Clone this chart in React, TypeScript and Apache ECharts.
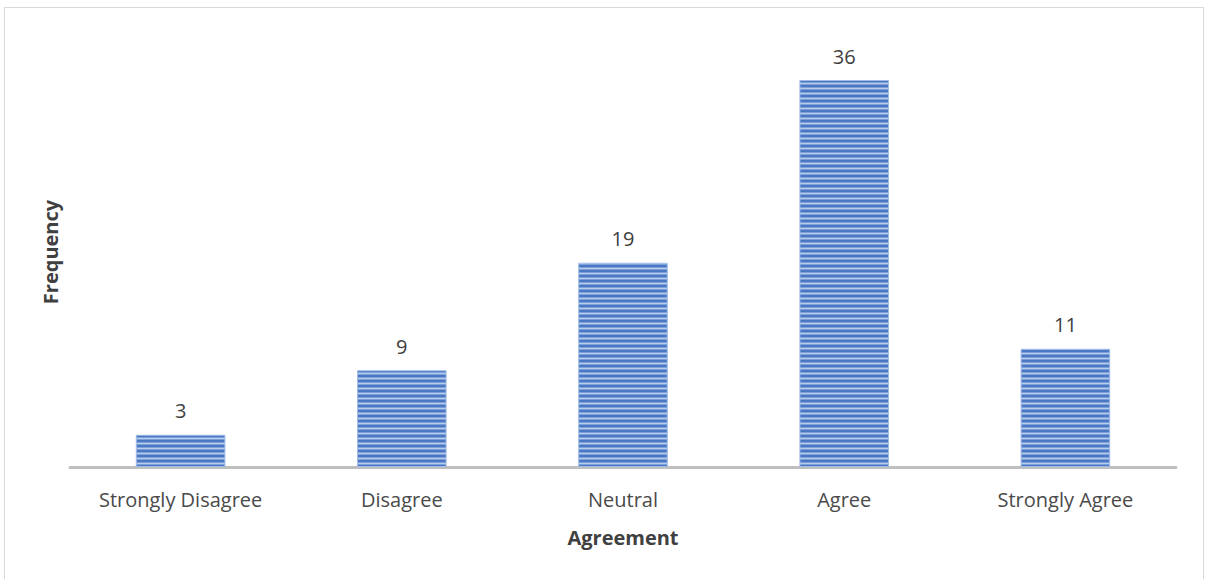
import React, { useEffect, useRef } from "react";
import * as echarts from "echarts";

const categories = ["Strongly Disagree", "Disagree", "Neutral", "Agree", "Strongly Agree"];
const frequencies = [3, 9, 19, 36, 11];
const xAxisTitle = "Agreement";
const yAxisTitle = "Frequency";

function makeStripes(): HTMLCanvasElement {
  const c = document.createElement("canvas");
  c.width = 8;
  c.height = 5;
  const ctx = c.getContext("2d")!;
  ctx.fillStyle = "#4a78c4";
  ctx.fillRect(0, 0, 8, 5);
  ctx.fillStyle = "#b4cced";
  ctx.fillRect(0, 3, 8, 1);
  ctx.fillStyle = "#7ea0d6";
  ctx.fillRect(0, 2, 8, 1);
  ctx.fillRect(0, 4, 8, 1);
  return c;
}

export default function App() {
  const ref = useRef<HTMLDivElement>(null);
  useEffect(() => {
    if (!ref.current) return;
    const chart = echarts.init(ref.current, undefined, { renderer: "svg" });
    const stripes = makeStripes();
    chart.setOption({
      animation: false,
      backgroundColor: "#ffffff",
      textStyle: { fontFamily: "Open Sans" },
      graphic: [
        {
          type: "rect",
          shape: { x: 4.5, y: 7.5, width: 1199, height: 580 },
          style: { fill: "none", stroke: "#d9d9d9", lineWidth: 1 },
          silent: true,
        },
      ],
      grid: { left: 70, right: 30, top: 37, bottom: 112, containLabel: false },
      xAxis: {
        type: "category",
        data: categories,
        name: xAxisTitle,
        nameLocation: "middle",
        nameGap: 60,
        nameTextStyle: { fontSize: 20, fontWeight: "bold", color: "#404040", fontFamily: "Open Sans" },
        axisLine: { show: true, lineStyle: { color: "#bfbfbf", width: 3 } },
        axisTick: { show: false },
        axisLabel: { fontSize: 20, color: "#4a4a4a", margin: 22, fontFamily: "Open Sans" },
      },
      yAxis: {
        type: "value",
        min: 0,
        max: 40,
        name: yAxisTitle,
        nameLocation: "middle",
        nameGap: 10,
        nameRotate: 90,
        nameTextStyle: { fontSize: 20, fontWeight: "bold", color: "#404040", fontFamily: "Open Sans" },
        axisLine: { show: false },
        axisTick: { show: false },
        axisLabel: { show: false },
        splitLine: { show: false },
      },
      series: [
        {
          type: "bar",
          data: frequencies,
          barWidth: "40.5%",
          itemStyle: {
            color: { image: stripes, repeat: "repeat" },
            borderColor: "#9fbbe6",
            borderWidth: 1,
          },
          label: {
            show: true,
            position: "top",
            distance: 14,
            fontSize: 20,
            color: "#404040",
            fontFamily: "Open Sans",
          },
        },
      ],
    });
    return () => chart.dispose();
  }, []);
  return (
    <div
      ref={ref}
      style={{ position: "absolute", left: 0, top: 0, width: 1206, height: 579 }}
    />
  );
}
